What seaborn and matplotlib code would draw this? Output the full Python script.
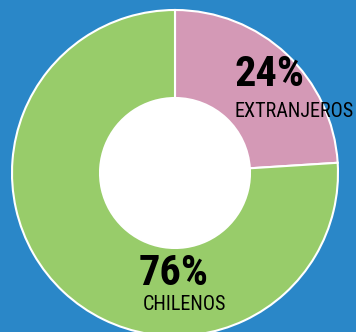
import matplotlib
matplotlib.use("Agg")
import matplotlib.pyplot as plt
from matplotlib import font_manager
from matplotlib.patches import Circle
import seaborn as sns

labels = ["EXTRANJEROS", "CHILENOS"]
shares = [24, 76]
colors = ["#d499b6", "#98cc6a"]
background = "#2a87c8"

sns.set_style("white")

# prefer a narrow sans face when one is installed
installed = {f.name for f in font_manager.fontManager.ttflist}
narrow = [n for n in ("Liberation Sans Narrow", "Roboto Condensed",
                      "DejaVu Sans Condensed", "Open Sans Condensed")
          if n in installed]
family = narrow[0] if narrow else "Roboto"
plt.rcParams["font.family"] = [family, "DejaVu Sans"]

W, H = 356, 332
fig = plt.figure(figsize=(W / 100, H / 100), dpi=100, facecolor=background)
ax = fig.add_axes([0, 0, 1, 1])
ax.set_facecolor(background)

R = 163.0
r_in = 75.0
cx, cy = 175.0, 173.0

ax.pie(
    shares,
    colors=colors,
    startangle=90,
    counterclock=False,
    radius=1.0,
    wedgeprops=dict(width=1 - r_in / R, edgecolor="white", linewidth=1.5),
)
ax.add_patch(Circle((0, 0), r_in / R, facecolor="white", edgecolor="none", zorder=0.5))
ax.set_aspect("equal")
ax.set_xlim(-cx / R, (W - cx) / R)
ax.set_ylim(-(H - cy) / R, cy / R)
ax.axis("off")


def px(x, y):
    return (x - cx) / R, (cy - y) / R


narrow_face = bool(narrow)
big = 30.5 if narrow_face else 25
small = 14.5 if narrow_face else 12

# value and label on each slice
spots = [((270, 86), (294, 117)), ((173.5, 285), (184, 310))]
for (vpos, lpos), share, label in zip(spots, shares, labels):
    ax.text(*px(*vpos), f"{share}%", ha="center", va="baseline",
            fontsize=big, fontweight="bold", color="black",
            fontstretch="condensed")
    ax.text(*px(*lpos), label, ha="center", va="baseline",
            fontsize=small, color="black", fontstretch="condensed")

fig.savefig("out.png", dpi=100, facecolor=background)
